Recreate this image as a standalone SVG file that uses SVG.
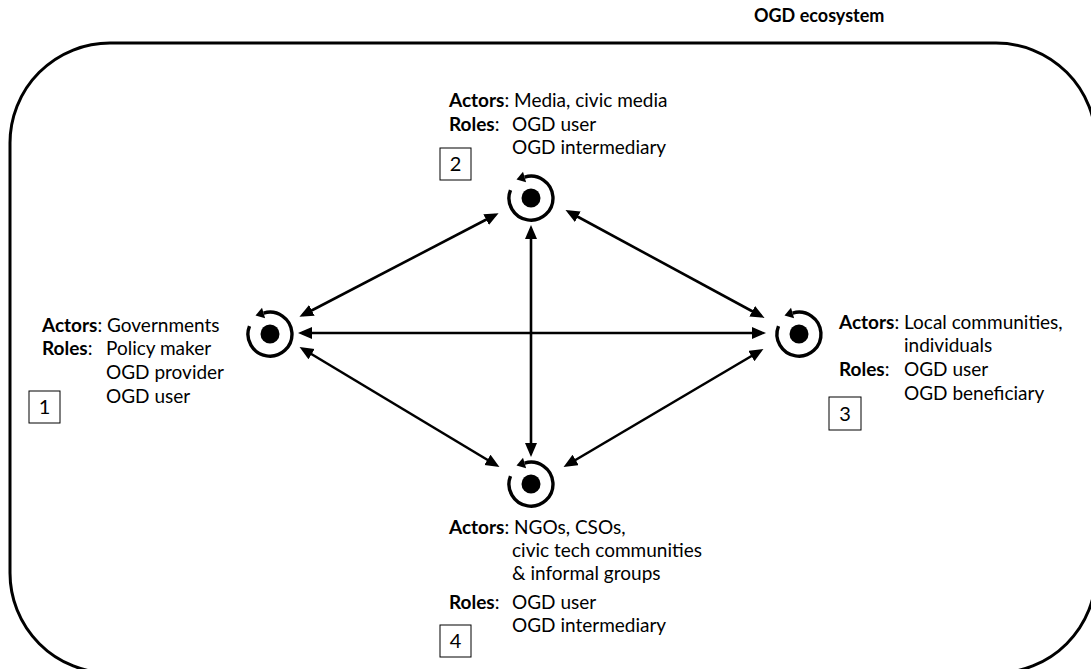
<svg xmlns="http://www.w3.org/2000/svg" width="1091" height="669" viewBox="0 0 1091 669">
<style>
text{font-family:Lato,"Liberation Sans",sans-serif;font-size:19px;fill:#000}
.b{font-weight:bold}
.t{font-size:18px;font-weight:bold}
.n{font-size:20px;text-anchor:middle}
.frame{fill:none;stroke:#000;stroke-width:3}
.conn{stroke:#000;stroke-width:2.6;fill:none;marker-start:url(#ah);marker-end:url(#ah)}
.num{fill:#fff;stroke:#000;stroke-width:1}
.ring{fill:none;stroke:#000;stroke-width:3.4}
</style>
<defs>
<marker id="ah" markerUnits="userSpaceOnUse" markerWidth="15" markerHeight="13" refX="10" refY="6" orient="auto-start-reverse">
<path d="M0,0 L14,6 L0,12 z" fill="#000"/>
</marker>
<g id="icon">
<path class="ring" d="M -6.4 -20.9 A 22 22 0 1 1 -20.5 -7.9"/>
<polygon points="-14.5,-18.4 -8,-26.2 -4.9,-15.8" fill="#000"/>
<circle r="9.5" fill="#000"/>
</g>
</defs>
<rect id="frame" class="frame" x="10" y="43" width="1086" height="630" rx="100" ry="100"/>
<text id="title" class="t" x="754" y="22">OGD ecosystem</text>
<g id="connectors">
<line class="conn" x1="302" y1="333" x2="762" y2="333"/>
<line class="conn" x1="531" y1="229" x2="531" y2="453"/>
<line class="conn" x1="303" y1="315" x2="495" y2="215"/>
<line class="conn" x1="569" y1="212" x2="761" y2="316"/>
<line class="conn" x1="303" y1="349" x2="496" y2="465"/>
<line class="conn" x1="567" y1="465" x2="760" y2="351"/>
</g>
<g id="node1">
<use href="#icon" x="270" y="334"/>
<text x="42" y="332"><tspan class="b">Actors</tspan>: Governments</text>
<text x="42" y="355"><tspan class="b">Roles</tspan>:</text>
<text x="106" y="355">Policy maker</text>
<text x="106" y="379">OGD provider</text>
<text x="106" y="403">OGD user</text>
<rect class="num" x="29" y="391" width="31" height="32"/>
<text class="n" x="44.5" y="414">1</text>
</g>
<g id="node2">
<use href="#icon" x="531" y="198"/>
<text x="449" y="107"><tspan class="b">Actors</tspan>: Media, civic media</text>
<text x="449" y="131"><tspan class="b">Roles</tspan>:</text>
<text x="512" y="131">OGD user</text>
<text x="512" y="154">OGD intermediary</text>
<rect class="num" x="440" y="148" width="31" height="32"/>
<text class="n" x="455.5" y="171">2</text>
</g>
<g id="node3">
<use href="#icon" x="799" y="334"/>
<text x="839" y="329"><tspan class="b">Actors</tspan>:</text>
<text x="904" y="329">Local communities,</text>
<text x="904" y="352">individuals</text>
<text x="839" y="376"><tspan class="b">Roles</tspan>:</text>
<text x="904" y="376">OGD user</text>
<text x="904" y="400">OGD beneficiary</text>
<rect class="num" x="829" y="397" width="32" height="33"/>
<text class="n" x="845" y="421">3</text>
</g>
<g id="node4">
<use href="#icon" x="531" y="484"/>
<text x="449" y="534"><tspan class="b">Actors</tspan>: NGOs, CSOs,</text>
<text x="512" y="557">civic tech communities</text>
<text x="512" y="580">&amp; informal groups</text>
<text x="449" y="609"><tspan class="b">Roles</tspan>:</text>
<text x="512" y="609">OGD user</text>
<text x="512" y="632">OGD intermediary</text>
<rect class="num" x="440" y="625" width="31" height="32"/>
<text class="n" x="455.5" y="648">4</text>
</g>
</svg>
